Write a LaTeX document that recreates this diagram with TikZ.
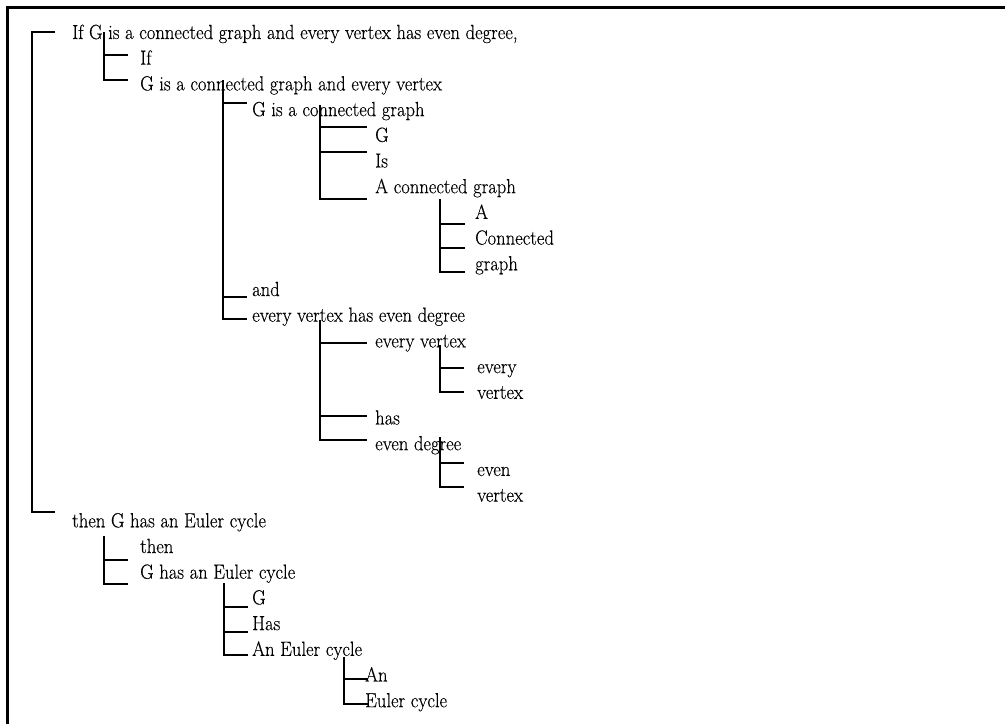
\documentclass[tikz,border=0pt]{standalone}
\usepackage{fontspec}
\setmainfont{Latin Modern Roman}[FakeBold=0.3]
% labels are set slightly taller than the font's natural proportions
\newcommand{\lab}[1]{\scalebox{1}[1.1]{#1}}
\begin{document}
\begin{tikzpicture}[x=1pt,y=-1pt,
  lbl/.style={anchor=base west,inner sep=0pt,font=\fontsize{18.6}{22}\selectfont},
  branch/.style={line width=2pt,line join=miter,line cap=butt},
  frameline/.style={line width=2.4pt,line join=miter}]
\useasboundingbox (0,0) rectangle (1005,724);

% outer frame (top and left edges)
\coordinate (fbl) at (7.5,724);
\coordinate (ftl) at (7.5,7.5);
\coordinate (ftr) at (1005,7.5);
\draw[frameline] (fbl) -- (ftl) -- (ftr);

% labels, one per row
\node[lbl] (s)     at (72,39.0)   {\lab{If G is a connected graph and every vertex has even degree,}};
\node[lbl] (if)    at (140,64.7)  {\lab{If}};
\node[lbl] (ant)   at (140,90.4)  {\lab{G is a connected graph and every vertex}};
\node[lbl] (gcg)   at (252,116.1) {\lab{G is a connected graph}};
\node[lbl] (g1)    at (375,141.8) {\lab{G}};
\node[lbl] (is)    at (375,167.5) {\lab{Is}};
\node[lbl] (acg)   at (375,193.2) {\lab{A connected graph}};
\node[lbl] (a)     at (475,218.9) {\lab{A}};
\node[lbl] (conn)  at (475,244.6) {\lab{Connected}};
\node[lbl] (graph) at (475,270.3) {\lab{graph}};
\node[lbl] (and)   at (252,296.0) {\lab{and}};
\node[lbl] (evhed) at (252,321.7) {\lab{every vertex has even degree}};
\node[lbl] (ev)    at (375,347.4) {\lab{every vertex}};
\node[lbl] (every) at (477,373.1) {\lab{every}};
\node[lbl] (vert1) at (477,398.8) {\lab{vertex}};
\node[lbl] (has)   at (375,424.5) {\lab{has}};
\node[lbl] (ed)    at (375,450.2) {\lab{even degree}};
\node[lbl] (even)  at (477,475.9) {\lab{even}};
\node[lbl] (vert2) at (477,501.6) {\lab{vertex}};
\node[lbl] (cons)  at (72,527.3)  {\lab{then G has an Euler cycle}};
\node[lbl] (then)  at (140,553.0) {\lab{then}};
\node[lbl] (ghec)  at (140,578.7) {\lab{G has an Euler cycle}};
\node[lbl] (g2)    at (252,604.4) {\lab{G}};
\node[lbl] (has2)  at (252,630.1) {\lab{Has}};
\node[lbl] (aec)   at (252,655.8) {\lab{An Euler cycle}};
\node[lbl] (an)    at (365,681.5) {\lab{An}};
\node[lbl] (ec)    at (365,707.2) {\lab{Euler cycle}};

% root bracket: sentence -> antecedent / consequent
\coordinate (r0) at (55,32);  \coordinate (r1) at (32,32);
\coordinate (r2) at (32,512); \coordinate (r3) at (55,512);
\draw[branch] (r0) -- (r1) -- (r2) -- (r3);

% "If G is ..." -> If / G is a connected graph and every vertex
\coordinate (a0) at (104,32); \coordinate (a1) at (104,80);
\coordinate (a2) at (128,80); \coordinate (a3) at (104,55); \coordinate (a4) at (128,55);
\draw[branch] (a0) -- (a1) -- (a2);
\draw[branch] (a3) -- (a4);

% antecedent -> G is a connected graph / and / every vertex has even degree
\coordinate (b0) at (223,80);  \coordinate (b1) at (223,319); \coordinate (b2) at (247,319);
\coordinate (b3) at (223,103); \coordinate (b4) at (247,103);
\coordinate (b5) at (223,297); \coordinate (b6) at (247,297);
\draw[branch] (b0) -- (b1) -- (b2);
\draw[branch] (b3) -- (b4);
\draw[branch] (b5) -- (b6);

% G is a connected graph -> G / Is / A connected graph
\coordinate (c0) at (320,105); \coordinate (c1) at (320,199); \coordinate (c2) at (367,199);
\coordinate (c3) at (320,127); \coordinate (c4) at (367,127);
\coordinate (c5) at (320,152); \coordinate (c6) at (367,152);
\draw[branch] (c0) -- (c1) -- (c2);
\draw[branch] (c3) -- (c4);
\draw[branch] (c5) -- (c6);

% A connected graph -> A / Connected / graph
\coordinate (d0) at (440,199); \coordinate (d1) at (440,272); \coordinate (d2) at (465,272);
\coordinate (d3) at (440,224); \coordinate (d4) at (465,224);
\coordinate (d5) at (440,248); \coordinate (d6) at (465,248);
\draw[branch] (d0) -- (d1) -- (d2);
\draw[branch] (d3) -- (d4);
\draw[branch] (d5) -- (d6);

% every vertex has even degree -> every vertex / has / even degree
\coordinate (e0) at (320,320); \coordinate (e1) at (320,440); \coordinate (e2) at (367,440);
\coordinate (e3) at (320,343); \coordinate (e4) at (367,343);
\coordinate (e5) at (320,416); \coordinate (e6) at (367,416);
\draw[branch] (e0) -- (e1) -- (e2);
\draw[branch] (e3) -- (e4);
\draw[branch] (e5) -- (e6);

% every vertex -> every / vertex
\coordinate (f0) at (440,345); \coordinate (f1) at (440,392); \coordinate (f2) at (464,392);
\coordinate (f3) at (440,368); \coordinate (f4) at (464,368);
\draw[branch] (f0) -- (f1) -- (f2);
\draw[branch] (f3) -- (f4);

% even degree -> even / vertex
\coordinate (h0) at (440,437); \coordinate (h1) at (440,487); \coordinate (h2) at (464,487);
\coordinate (h3) at (440,463); \coordinate (h4) at (464,463);
\draw[branch] (h0) -- (h1) -- (h2);
\draw[branch] (h3) -- (h4);

% consequent -> then / G has an Euler cycle
\coordinate (k0) at (104,536); \coordinate (k1) at (104,584); \coordinate (k2) at (128,584);
\coordinate (k3) at (104,560); \coordinate (k4) at (128,560);
\draw[branch] (k0) -- (k1) -- (k2);
\draw[branch] (k3) -- (k4);

% G has an Euler cycle -> G / Has / An Euler cycle
\coordinate (m0) at (224,583); \coordinate (m1) at (224,655); \coordinate (m2) at (248,655);
\coordinate (m3) at (224,607); \coordinate (m4) at (248,607);
\coordinate (m5) at (224,632); \coordinate (m6) at (248,632);
\draw[branch] (m0) -- (m1) -- (m2);
\draw[branch] (m3) -- (m4);
\draw[branch] (m5) -- (m6);

% An Euler cycle -> An / Euler cycle
\coordinate (n0) at (344,657); \coordinate (n1) at (344,704); \coordinate (n2) at (368,704);
\coordinate (n3) at (344,679); \coordinate (n4) at (368,679);
\draw[branch] (n0) -- (n1) -- (n2);
\draw[branch] (n3) -- (n4);
\end{tikzpicture}
\end{document}
